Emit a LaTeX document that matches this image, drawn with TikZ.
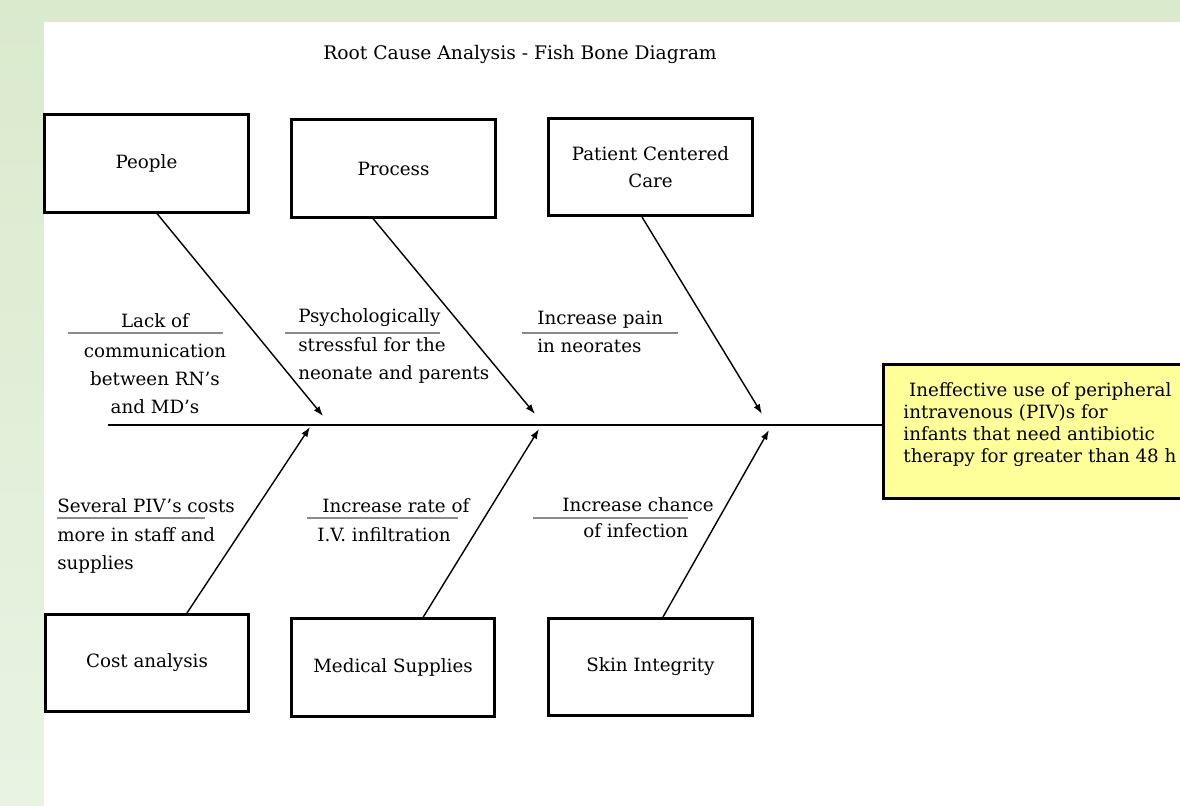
\documentclass[tikz,border=0pt]{standalone}
\usepackage{fontspec}
\setmainfont{DejaVu Serif}
\usetikzlibrary{arrows.meta, positioning, calc}
\definecolor{bgtop}{HTML}{DAEACD}
\definecolor{bglow}{HTML}{E9F3E3}
\definecolor{bgeffect}{HTML}{FFFF99}
\definecolor{rulegray}{HTML}{8A8A8A}
\tikzset{
  catbox/.style    = {draw, line width=2pt, fill=white,
                      minimum width=5.08cm, minimum height=2.43cm,
                      font=\fontsize{13}{19}\selectfont, align=center, inner sep=2pt},
  effectbox/.style = {draw, line width=2pt, fill=bgeffect,
                      inner xsep=0.5cm, inner ysep=0.45cm,
                      font=\fontsize{13}{15.8}\selectfont},
  causehd/.style   = {font=\fontsize{13}{20}\selectfont, inner sep=0pt},
  causebd/.style   = {font=\fontsize{13}{20}\selectfont, inner sep=0pt},
  headrule/.style  = {draw=rulegray, line width=0.8pt},
  bone/.style      = {-{Latex[length=7pt,width=5pt]}, line width=1pt},
  spine/.style     = {line width=2pt},
}

\begin{document}
\begin{tikzpicture}[x=0.025cm, y=-0.025cm]
    \useasboundingbox (0,0) rectangle (1180,806);
    \shade[top color=bgtop, bottom color=bglow] (0,0) rectangle (1180,806);
    \fill[white] (44,22) rectangle (1180,806);

    \node[font=\fontsize{13.3}{15}\selectfont] (title) at (520,54) {Root Cause Analysis - Fish Bone Diagram};

    % Row 1 : causes above the spine
    \node[catbox] (people)  at (146.5,163.5) {People};
    \node[catbox] (process) at (393.5,168.5) {Process};
    \node[catbox] (care)    at (650.5,167)   {Patient Centered\\Care};

    % Row 2 : causes below the spine
    \node[catbox] (cost)   at (147,663)   {Cost analysis};
    \node[catbox] (supply) at (393,667.5) {Medical Supplies};
    \node[catbox] (skin)   at (650.5,667) {Skin Integrity};

    % effect and spine
    \node[effectbox, anchor=north west] (effect) at (882,363)
      {\parbox[c][2.45cm][t]{6.95cm}{\raggedright\ Ineffective use of peripheral\\intravenous (PIV)s for\\infants that need antibiotic\\therapy for greater than 48 h}};
    \coordinate (tail) at (108,425);
    \draw[spine] (tail) -- (tail -| effect.west);

    \coordinate (hPeople)  at (323,416);
    \coordinate (hProcess) at (535,414);
    \coordinate (hCare)    at (762,414);
    \coordinate (hCost)    at (310,427);
    \coordinate (hSupply)  at (539,429);
    \coordinate (hSkin)    at (769,430);

    \draw[bone] ($(people.south)+(10.5,0)$)  -- (hPeople);
    \draw[bone] ($(process.south)+(-20.5,0)$) -- (hProcess);
    \draw[bone] ($(care.south)+(-8.5,0)$)    -- (hCare);
    \draw[bone] ($(cost.north)+(40,0)$)      -- (hCost);
    \draw[bone] ($(supply.north)+(30,0)$)    -- (hSupply);
    \draw[bone] ($(skin.north)+(12.5,0)$)    -- (hSkin);

    % sub-causes, upper side
    \node[causehd, anchor=base] (lackhd) at (155,328) {Lack of};
    \draw[headrule] (68,333) -- (223,333);
    \node[causebd, anchor=north, align=center] (lackbd) at (155,344) {communication\\between RN's\\and MD's};

    \node[causehd, anchor=base west] (psyhd) at (298,323) {Psychologically};
    \draw[headrule] (285,333) -- (440,333);
    \node[causebd, anchor=north west, align=left] (psybd) at (298,337) {stressful for the\\neonate and parents};

    \node[causehd, anchor=base west] (painhd) at (537,325) {Increase pain};
    \draw[headrule] (522,333) -- (678,333);
    \node[causebd, anchor=base west] (painbd) at (537,353) {in neorates};

    % sub-causes, lower side
    \node[causehd, anchor=base west] (costhd) at (57,513) {Several PIV's costs};
    \draw[headrule] (57,518) -- (205,518);
    \node[causebd, anchor=north west, align=left] (costbd) at (57,527) {more in staff and\\supplies};

    \node[causehd, anchor=base west] (ratehd) at (322,513) {Increase rate of};
    \draw[headrule] (307,518) -- (458,518);
    \node[causebd, anchor=base west] (ratebd) at (317,542) {I.V. infiltration};

    \node[causehd, anchor=base west] (chancehd) at (562,512) {Increase chance};
    \draw[headrule] (533,518) -- (688,518);
    \node[causebd, anchor=base west] (chancebd) at (583,538) {of infection};
\end{tikzpicture}
\end{document}
